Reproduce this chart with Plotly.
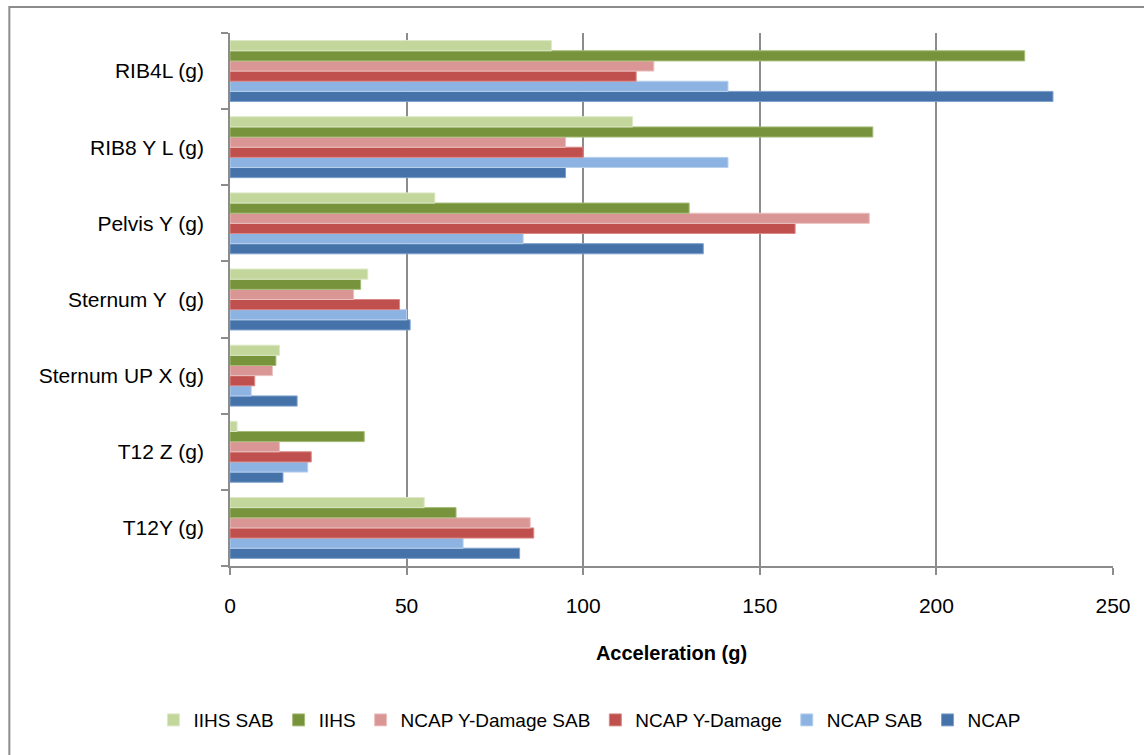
import plotly.graph_objects as go

# Measurement points, bottom to top on the category axis
categories = ["T12Y (g)", "T12 Z (g)", "Sternum UP X (g)", "Sternum Y\u00a0 (g)",
              "Pelvis Y (g)", "RIB8 Y L (g)", "RIB4L (g)"]

ncap = [82, 15, 19, 51, 134, 95, 233]
ncap_sab = [66, 22, 6, 50, 83, 141, 141]
ncap_ydamage = [86, 23, 7, 48, 160, 100, 115]
ncap_ydamage_sab = [85, 14, 12, 35, 181, 95, 120]
iihs = [64, 38, 13, 37, 130, 182, 225]
iihs_sab = [55, 2, 14, 39, 58, 114, 91]

x_ticks = [0, 50, 100, 150, 200, 250]

series = [
    ("NCAP", ncap, "#4573A9", "#7DA0CC"),
    ("NCAP SAB", ncap_sab, "#8DB3E2", "#B9D1EE"),
    ("NCAP Y-Damage", ncap_ydamage, "#C0504D", "#D98886"),
    ("NCAP Y-Damage SAB", ncap_ydamage_sab, "#D99694", "#EBC2C1"),
    ("IIHS", iihs, "#77933C", "#A6BD78"),
    ("IIHS SAB", iihs_sab, "#C3D69B", "#DDE8C6"),
]

font_family = "Liberation Sans, Arial, sans-serif"

fig = go.Figure()
for name, vals, color, edge in series:
    fig.add_trace(go.Bar(
        y=categories, x=vals, name=name, orientation="h",
        marker=dict(color=color, line=dict(color=edge, width=1)),
    ))

grid = "#8C8C8C"
fig.update_layout(
    width=1144, height=755,
    barmode="group", bargap=0.2, bargroupgap=0,
    plot_bgcolor="white", paper_bgcolor="white",
    margin=dict(l=230, r=31, t=33, b=189),
    font=dict(family=font_family, size=20, color="#000000"),
    xaxis=dict(
        range=[0, 250], tickvals=x_ticks, ticktext=[str(v) for v in x_ticks],
        showgrid=True, gridcolor=grid, gridwidth=1.5, zeroline=False,
        showline=True, linecolor=grid, linewidth=1.5,
        ticks="outside", ticklen=7, tickcolor=grid, tickwidth=1.5,
        ticklabelstandoff=13, tickfont=dict(size=21),
        title=dict(text="<b>Acceleration (g)</b>", font=dict(size=20), standoff=30),
    ),
    yaxis=dict(
        categoryorder="array", categoryarray=categories,
        showgrid=False, zeroline=False,
        showline=True, linecolor=grid, linewidth=1.5,
        ticks="outside", ticklen=7, tickcolor=grid, tickwidth=1.5,
        tickson="boundaries", ticklabelstandoff=20, tickfont=dict(size=21),
    ),
    legend=dict(
        orientation="h", traceorder="reversed",
        x=0.407, xanchor="center", y=-0.289, yanchor="middle",
        font=dict(size=19), itemwidth=30,
    ),
    shapes=[dict(
        type="rect", xref="paper", yref="paper",
        x0=-0.2499, x1=1.05, y0=-0.37, y1=1.0488,
        line=dict(color="#8C8C8C", width=2), fillcolor="rgba(0,0,0,0)",
        layer="below",
    )],
)

fig.write_html("out.html")
